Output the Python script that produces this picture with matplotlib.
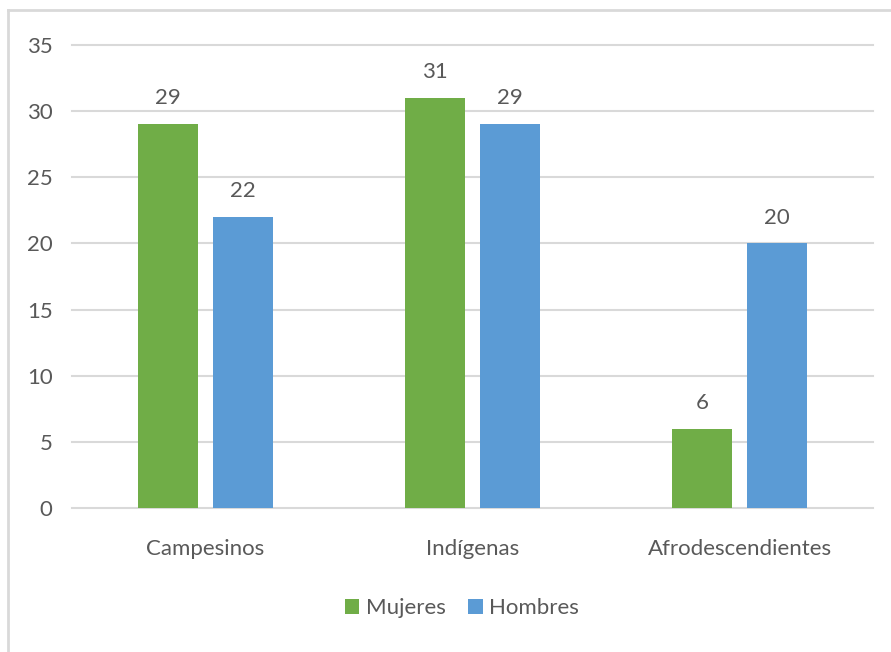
import matplotlib
matplotlib.use("Agg")
import matplotlib.pyplot as plt
from matplotlib.lines import Line2D
import numpy as np

categories = ["Campesinos", "Indígenas", "Afrodescendientes"]
mujeres = [29, 31, 6]
hombres = [22, 29, 20]
yticks = [0, 5, 10, 15, 20, 25, 30, 35]

GREEN = "#70AD47"
BLUE = "#5B9BD5"
TEXT = "#595959"
GRID = "#D9D9D9"

plt.rcParams["font.family"] = ["Lato", "DejaVu Sans"]
FS = 16

fig = plt.figure(figsize=(8.91, 6.52), dpi=100)
ax = fig.add_axes([72 / 891, 1 - 508 / 652, 801 / 891, 463 / 652])

x = np.arange(len(categories))
w = 0.225
gap = 0.056
off = (w + gap) / 2
b1 = ax.bar(x - off, mujeres, w, color=GREEN, label="Mujeres", zorder=3)
b2 = ax.bar(x + off, hombres, w, color=BLUE, label="Hombres", zorder=3)

for bars, vals in ((b1, mujeres), (b2, hombres)):
    for r, v in zip(bars, vals):
        ax.text(r.get_x() + r.get_width() / 2, v + 1.2, f"{v}",
                ha="center", va="bottom", fontsize=FS, color=TEXT)

ax.set_xlim(-0.5, 2.5)
ax.set_ylim(0, 35)
ax.set_yticks(yticks)
ax.set_xticks(x)
ax.set_xticklabels(categories)
ax.tick_params(axis="both", length=0, labelsize=FS, labelcolor=TEXT)
ax.tick_params(axis="y", pad=14)
ax.tick_params(axis="x", pad=22)
ax.grid(axis="y", color=GRID, linewidth=1.5, zorder=0)
for gl in ax.get_ygridlines():
    gl.set_clip_on(False)
for s in ax.spines.values():
    s.set_visible(False)

leg = fig.legend(handles=[b1, b2], labels=["Mujeres", "Hombres"], loc="center",
                 bbox_to_anchor=(462 / 891, 1 - 608 / 652), ncol=2, frameon=False,
                 fontsize=FS, handlelength=0.65, handleheight=0.65,
                 handletextpad=0.3, columnspacing=1.0)
for t in leg.get_texts():
    t.set_color(TEXT)

# outer chart frame (top and left edges)
fig.add_artist(Line2D([8 / 891, 1.0], [1 - 10 / 652, 1 - 10 / 652],
                      transform=fig.transFigure, color=GRID, linewidth=2))
fig.add_artist(Line2D([8 / 891, 8 / 891], [0, 1 - 10 / 652],
                      transform=fig.transFigure, color=GRID, linewidth=2))

fig.savefig("out.png", dpi=100)
